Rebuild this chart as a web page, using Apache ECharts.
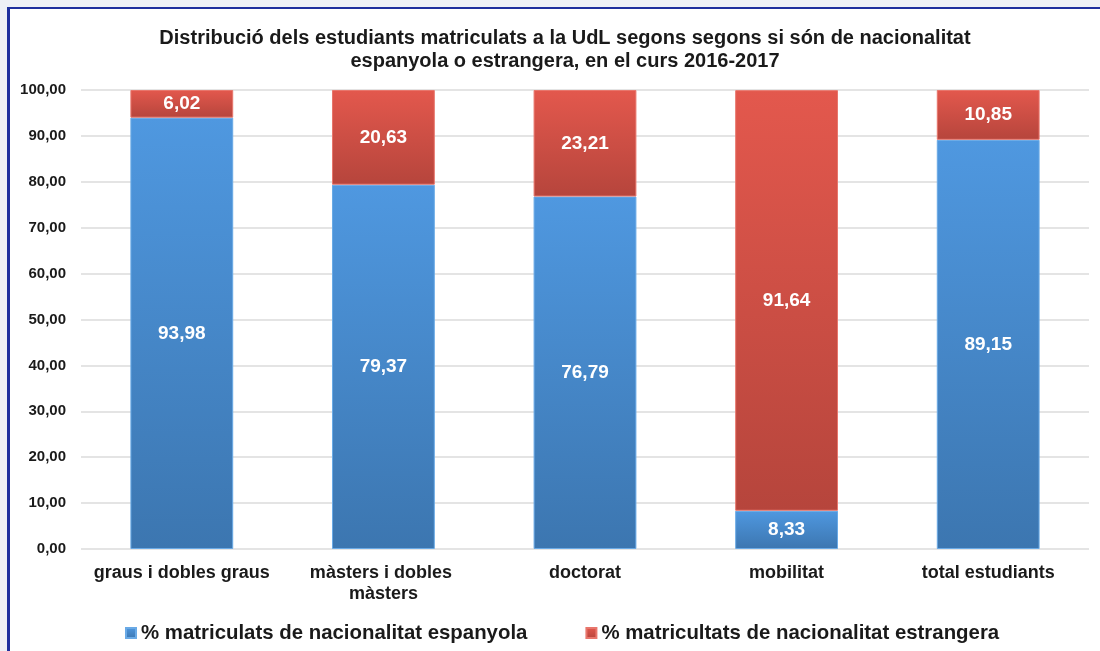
<!DOCTYPE html>
<html>
<head>
<meta charset="utf-8">
<script src="https://cdn.jsdelivr.net/npm/echarts@6/dist/echarts.min.js"></script>
<style>
  html, body { margin: 0; padding: 0; background: #eef0f6; overflow: hidden; }
  #frame { position: absolute; left: 7px; top: 7px; width: 1110px; height: 660px;
           background: #fff; border-left: 3px solid #1f2f9e; border-top: 2px solid #1f2f9e; }
  #chart { position: absolute; left: 0; top: 0; width: 1100px; height: 651px; }
</style>
</head>
<body>
<div id="frame"></div>
<div id="chart"></div>
<script>
// categories and values (percentages)
const categories = ['graus i dobles graus', 'màsters i dobles màsters', 'doctorat', 'mobilitat', 'total estudiants']
const espanyola = [93.98, 79.37, 76.79, 8.33, 89.15]
const estrangera = [6.02, 20.63, 23.21, 91.64, 10.85]
const seriesNames = ['% matriculats de nacionalitat espanyola', '% matricultats de nacionalitat estrangera']

const fmt = v => v.toFixed(2).replace('.', ',')

function grad(top, bottom) {
  return new echarts.graphic.LinearGradient(0, 0, 0, 1, [
    { offset: 0, color: top },
    { offset: 1, color: bottom }
  ])
}

const blue = grad('#4f98e0', '#3c76b0')
const red = grad('#e3584d', '#b6453c')

let chart = echarts.init(document.getElementById('chart'))
chart.setOption({
  backgroundColor: 'transparent',
  textStyle: { fontFamily: '"Liberation Sans", Arial, sans-serif' },
  title: {
    text: 'Distribució dels estudiants matriculats a la UdL segons segons si són de nacionalitat\nespanyola o estrangera, en el curs 2016-2017',
    left: 560,
    textAlign: 'center',
    top: 22,
    textStyle: { fontSize: 20, fontWeight: 'bold', color: '#1a1a1a', lineHeight: 23 }
  },
  legend: {
    bottom: 3,
    left: 120,
    itemWidth: 10,
    itemHeight: 10,
    itemGap: 58,
    icon: 'rect',
    textStyle: { fontSize: 20.4, fontWeight: 'bold', color: '#1a1a1a' },
    data: seriesNames
  },
  grid: { left: 81, right: 11, top: 90, bottom: 102 },
  xAxis: {
    type: 'category',
    data: categories,
    axisLine: { show: false },
    axisTick: { show: false },
    axisLabel: {
      interval: 0,
      fontSize: 18, fontWeight: 'bold', color: '#1a1a1a', margin: 14,
      width: 188, overflow: 'break', lineHeight: 21
    }
  },
  yAxis: {
    type: 'value',
    min: 0,
    max: 100,
    interval: 10,
    axisLine: { show: false },
    axisTick: { show: false },
    axisLabel: { fontSize: 15, fontWeight: 'bold', color: '#1a1a1a', margin: 15, formatter: fmt },
    splitLine: { lineStyle: { color: '#e4e4e4', width: 2 } }
  },
  series: [
    {
      name: seriesNames[0],
      type: 'bar',
      stack: 'total',
      barWidth: '51%',
      itemStyle: { color: blue, borderColor: '#6aaae6', borderWidth: 1 },
      label: { show: true, position: 'inside', color: '#fff', fontSize: 19, fontWeight: 'bold',
               formatter: p => fmt(p.value) },
      data: espanyola
    },
    {
      name: seriesNames[1],
      type: 'bar',
      stack: 'total',
      barWidth: '51%',
      itemStyle: { color: red, borderColor: '#e8766c', borderWidth: 1 },
      label: { show: true, position: 'inside', color: '#fff', fontSize: 19, fontWeight: 'bold',
               formatter: p => fmt(p.value) },
      data: estrangera
    }
  ]
})
</script>
</body>
</html>
